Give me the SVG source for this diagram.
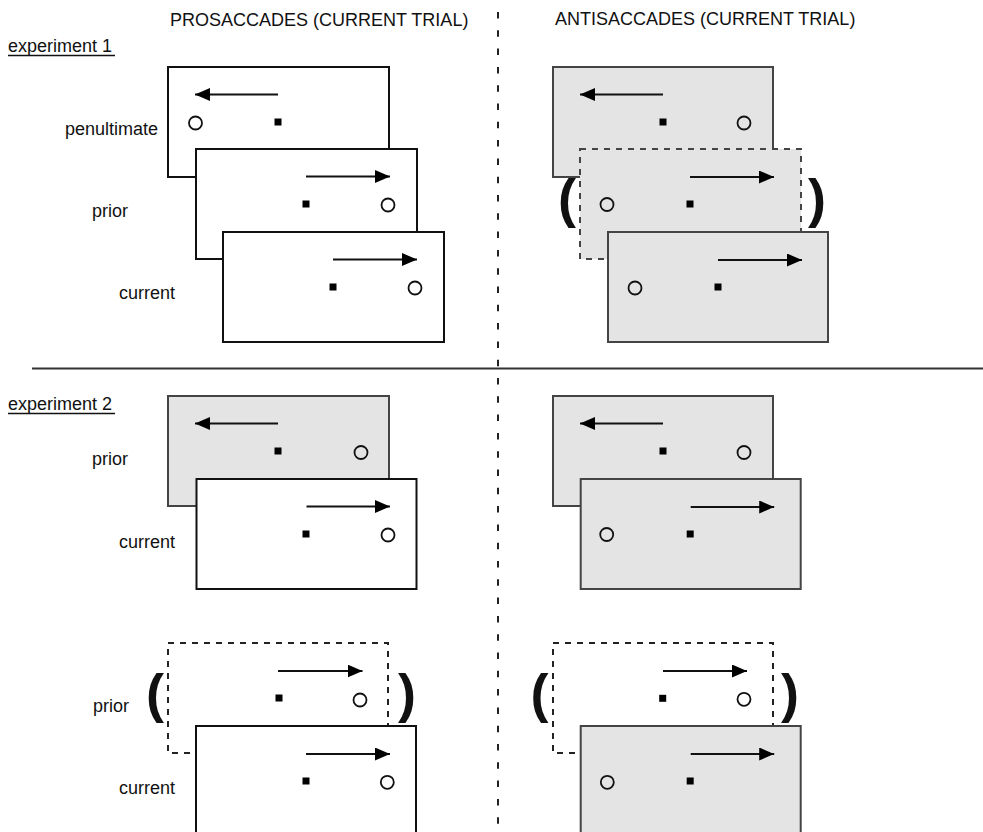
<svg xmlns="http://www.w3.org/2000/svg" width="983" height="832" viewBox="0 0 983 832">
<defs>
<marker id="ah" markerUnits="userSpaceOnUse" markerWidth="15" markerHeight="13" refX="15" refY="6.5" orient="auto">
<path d="M0,0 L15,6.5 L0,13 z" fill="#000"/>
</marker>
<style>
text{font-family:"Liberation Sans",Arial,sans-serif;fill:#111}
.hd{font-size:18px}
.lb{font-size:18px}
.par{font-size:54px;font-weight:bold;text-anchor:middle}
.w{fill:#fff;stroke:#111;stroke-width:2}
.g{fill:#e4e4e4;stroke:#444;stroke-width:2}
.dw{fill:none;stroke:#222;stroke-width:2;stroke-dasharray:6 6}
.dg{fill:#e4e4e4;stroke:#444;stroke-width:2;stroke-dasharray:6 6}
.ar{stroke:#111;stroke-width:2;marker-end:url(#ah)}
.ci{fill:none;stroke:#111;stroke-width:1.8}
.sq{fill:#000}
.ul{stroke:#111;stroke-width:1.3}
</style>
</defs>
<rect width="983" height="832" fill="#fff"/>

<g id="dividers">
<line x1="498" y1="12" x2="498" y2="832" stroke="#222" stroke-width="2" stroke-dasharray="6.5 11.8"/>
<line x1="32" y1="368.5" x2="983" y2="368.5" stroke="#333" stroke-width="2"/>
</g>

<g id="headers">
<text class="hd" x="170" y="26">PROSACCADES (CURRENT TRIAL)</text>
<text class="hd" x="555" y="25">ANTISACCADES (CURRENT TRIAL)</text>
<text class="lb" x="8" y="52">experiment 1</text>
<line class="ul" x1="8" y1="55.5" x2="115" y2="55.5"/>
<text class="lb" x="8" y="410">experiment 2</text>
<line class="ul" x1="8" y1="413.5" x2="115" y2="413.5"/>
</g>

<g id="labels">
<text class="lb" x="158" y="135" text-anchor="end">penultimate</text>
<text class="lb" x="92" y="217">prior</text>
<text class="lb" x="119" y="299">current</text>
<text class="lb" x="92" y="465">prior</text>
<text class="lb" x="119" y="548">current</text>
<text class="lb" x="93" y="712">prior</text>
<text class="lb" x="119" y="794">current</text>
</g>

<!-- Experiment 1, prosaccades -->
<g id="e1-pro-penultimate" transform="translate(168,67)">
<rect class="w" width="221" height="110"/>
<line class="ar" x1="110" y1="27.5" x2="27" y2="27.5"/>
<circle class="ci" cx="27.5" cy="56" r="6.5"/>
<rect class="sq" x="106.5" y="51.5" width="7" height="7"/>
</g>
<g id="e1-pro-prior" transform="translate(196,149)">
<rect class="w" width="221" height="110"/>
<line class="ar" x1="110" y1="27.5" x2="194" y2="27.5"/>
<rect class="sq" x="106.5" y="51.5" width="7" height="7"/>
<circle class="ci" cx="192" cy="56" r="6.5"/>
</g>
<g id="e1-pro-current" transform="translate(223,232)">
<rect class="w" width="221" height="110"/>
<line class="ar" x1="110" y1="27.5" x2="194" y2="27.5"/>
<rect class="sq" x="106.5" y="51.5" width="7" height="7"/>
<circle class="ci" cx="192" cy="56" r="6.5"/>
</g>

<!-- Experiment 1, antisaccades -->
<g id="e1-anti-penultimate" transform="translate(553,67)">
<rect class="g" width="220" height="110"/>
<line class="ar" x1="110" y1="27.5" x2="27" y2="27.5"/>
<rect class="sq" x="106.5" y="51.5" width="7" height="7"/>
<circle class="ci" cx="191" cy="56" r="6.5"/>
</g>
<g id="e1-anti-prior" transform="translate(580,149)">
<rect class="dg" width="221" height="110"/>
<line class="ar" x1="110" y1="28" x2="194" y2="28"/>
<circle class="ci" cx="27" cy="55.5" r="6.5"/>
<rect class="sq" x="106.5" y="51.5" width="7" height="7"/>
<text class="par" x="567" y="217" transform="translate(-580,-149)">(</text>
<text class="par" x="817" y="217" transform="translate(-580,-149)">)</text>
</g>
<g id="e1-anti-current" transform="translate(608,232)">
<rect class="g" width="220" height="110"/>
<line class="ar" x1="110" y1="28" x2="194" y2="28"/>
<circle class="ci" cx="27" cy="56" r="6.5"/>
<rect class="sq" x="106.5" y="51.5" width="7" height="7"/>
</g>

<!-- Experiment 2, switch from antisaccade -->
<g id="e2a-pro-prior" transform="translate(168,396)">
<rect class="g" width="221" height="110"/>
<line class="ar" x1="110" y1="27.5" x2="27" y2="27.5"/>
<rect class="sq" x="106.5" y="51.5" width="7" height="7"/>
<circle class="ci" cx="193" cy="56.5" r="6.5"/>
</g>
<g id="e2a-pro-current" transform="translate(196.5,479)">
<rect class="w" width="220" height="110"/>
<line class="ar" x1="110" y1="27.5" x2="193.5" y2="27.5"/>
<rect class="sq" x="106" y="51.5" width="7" height="7"/>
<circle class="ci" cx="191.5" cy="56" r="6.5"/>
</g>
<g id="e2a-anti-prior" transform="translate(553,396)">
<rect class="g" width="220" height="110"/>
<line class="ar" x1="110" y1="27.5" x2="27" y2="27.5"/>
<rect class="sq" x="106.5" y="51.5" width="7" height="7"/>
<circle class="ci" cx="191" cy="56.5" r="6.5"/>
</g>
<g id="e2a-anti-current" transform="translate(580.7,479)">
<rect class="g" width="220" height="110"/>
<line class="ar" x1="110" y1="28" x2="193.5" y2="28"/>
<circle class="ci" cx="26" cy="55.5" r="6.5"/>
<rect class="sq" x="106" y="51.5" width="7" height="7"/>
</g>

<!-- Experiment 2, repeated trial -->
<g id="e2b-pro-prior" transform="translate(168,643)">
<rect class="dw" width="220" height="110"/>
<line class="ar" x1="110" y1="28" x2="194.5" y2="28"/>
<rect class="sq" x="107.5" y="51.5" width="7" height="7"/>
<circle class="ci" cx="192" cy="57" r="6.5"/>
<text class="par" x="155" y="712" transform="translate(-168,-643)">(</text>
<text class="par" x="407" y="712" transform="translate(-168,-643)">)</text>
</g>
<g id="e2b-pro-current" transform="translate(196,726)">
<rect class="w" width="220" height="112"/>
<line class="ar" x1="110" y1="28" x2="194" y2="28"/>
<rect class="sq" x="106.5" y="51.5" width="7" height="7"/>
<circle class="ci" cx="191.3" cy="56.3" r="6.5"/>
</g>
<g id="e2b-anti-prior" transform="translate(553,643)">
<rect class="dw" width="220" height="110"/>
<line class="ar" x1="110" y1="28" x2="194" y2="28"/>
<rect class="sq" x="106.2" y="51.8" width="7" height="7"/>
<circle class="ci" cx="191" cy="56.3" r="6.5"/>
<text class="par" x="539.5" y="712" transform="translate(-553,-643)">(</text>
<text class="par" x="790" y="712" transform="translate(-553,-643)">)</text>
</g>
<g id="e2b-anti-current" transform="translate(580.7,726)">
<rect class="g" width="220" height="112"/>
<line class="ar" x1="110" y1="28" x2="193.5" y2="28"/>
<circle class="ci" cx="26.6" cy="56.3" r="6.5"/>
<rect class="sq" x="106" y="51.5" width="7" height="7"/>
</g>

<g id="connectors"></g>
</svg>
